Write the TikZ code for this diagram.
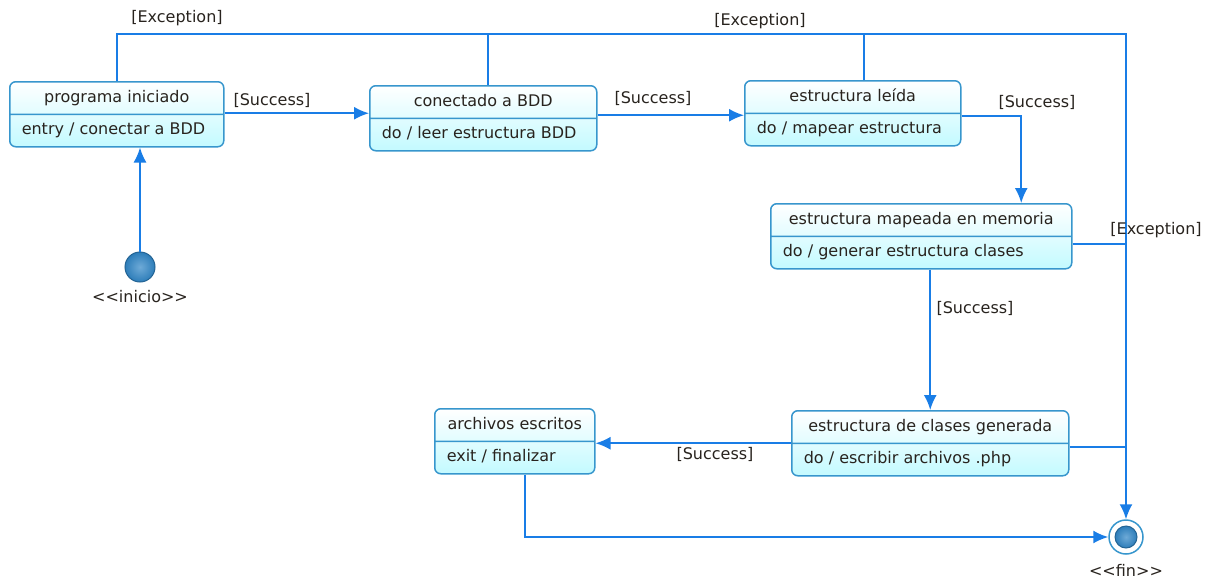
\documentclass[tikz,border=0pt]{standalone}
\usepackage{fontspec}
\setmainfont{DejaVu Sans}
\usetikzlibrary{arrows.meta,positioning,shapes.multipart}
\definecolor{flowblue}{RGB}{25,125,230}
\definecolor{boxblue}{RGB}{55,150,205}
\definecolor{boxfill}{RGB}{195,250,255}
\definecolor{dotblue}{RGB}{45,125,185}
\definecolor{dotlight}{RGB}{110,170,215}
\definecolor{txt}{RGB}{40,35,30}
\newcommand{\vs}{\rule[-5.5pt]{0pt}{19pt}}
\tikzset{
	state/.style={rectangle split, rectangle split parts=2, rectangle split part align={center,left},
		draw=boxblue, line width=1.5pt, rounded corners=6pt, top color=white, bottom color=boxfill,
		inner xsep=12pt, inner ysep=6pt, anchor=north west, font=\fontsize{16}{19}\selectfont, text=txt},
	flow/.style={draw=flowblue, line width=1.8pt},
	tip/.style={flow, -{Latex[length=15pt,width=13pt]}},
	guard/.style={font=\fontsize{16}{19}\selectfont, text=txt, inner sep=1pt},
	dot/.style={circle, inner sep=0pt, draw=dotblue!80!black, line width=1pt, inner color=dotlight, outer color=dotblue},
}

\begin{document}
\begin{tikzpicture}[x=1pt, y=-1pt]
		%%%%% START %%%%%
		\useasboundingbox (0,0) rectangle (1213,579);
		
		\node[state, minimum width=214pt] (s1) at (9,81) {\vs programa iniciado \nodepart{two}\vs entry / conectar a BDD};
		\node[state, minimum width=227pt] (s2) at (369,85) {\vs conectado a BDD \nodepart{two}\vs do / leer estructura BDD};
		\node[state, minimum width=216pt] (s3) at (744,80) {\vs estructura leída \nodepart{two}\vs do / mapear estructura};
		\node[state, minimum width=301pt] (s4) at (770,203) {\vs estructura mapeada en memoria \nodepart{two}\vs do / generar estructura clases};
		\node[state, minimum width=277pt] (s5) at (791,410) {\vs estructura de clases generada \nodepart{two}\vs do / escribir archivos .php};
		\node[state, minimum width=160pt] (s6) at (434,408) {\vs archivos escritos \nodepart{two}\vs exit / finalizar};
		
		\node[dot, minimum size=30pt] (ini) at (140,267) {};
		\node[guard, below=7pt of ini] (iniL) {<{}<inicio>{}>};
		
		\node[circle, minimum size=34pt, inner sep=0pt, draw=boxblue, line width=1.5pt] (fin) at (1126,537) {};
		\node[dot, minimum size=22pt] (finC) at (fin) {};
		\node[guard, below=8pt of fin] (finL) {<{}<fin>{}>};
		
		\coordinate (top) at (1126,34);
		
		% success
		\draw[tip] (ini.north) -- (ini.north |- s1.south);
		\draw[tip] ([yshift=1pt]s1.east) -- ([yshift=1pt]s1.east -| s2.west);
		\draw[tip] ([yshift=3pt]s2.east) -- ([yshift=3pt]s2.east -| s3.west);
		\draw[tip] ([yshift=-3pt]s3.east) -| ([xshift=100pt]s4.north);
		\draw[tip] (s4.south -| s5.north) -- (s5.north);
		\draw[tip] (s5.west) -- (s5.west -| s6.east);
		\draw[tip] ([xshift=10pt]s6.south) |- (fin.west);
		
		% exception
		\draw[tip] (s1.north) |- (top) -- (fin.north);
		\draw[flow] ([xshift=5pt]s2.north) -- ([xshift=5pt]s2.north |- top);
		\draw[flow] ([xshift=11pt]s3.north) -- ([xshift=11pt]s3.north |- top);
		\draw[flow] ([yshift=-8pt]s4.east) -- ([yshift=-8pt]s4.east -| fin);
		\draw[flow] ([yshift=-4pt]s5.east) -- ([yshift=-4pt]s5.east -| fin);
		
		\node[guard] (exc1) at (177,18) {[Exception]};
		\node[guard] (exc2) at (760,21) {[Exception]};
		\node[guard] (exc3) at (1156,230) {[Exception]};
		\node[guard] (suc1) at (272,100) {[Success]};
		\node[guard] (suc2) at (653,98) {[Success]};
		\node[guard] (suc3) at (1037,102) {[Success]};
		\node[guard] (suc4) at (975,308) {[Success]};
		\node[guard] (suc5) at (715,454) {[Success]};
		
		%%%%% END %%%%%
\end{tikzpicture}
\end{document}
